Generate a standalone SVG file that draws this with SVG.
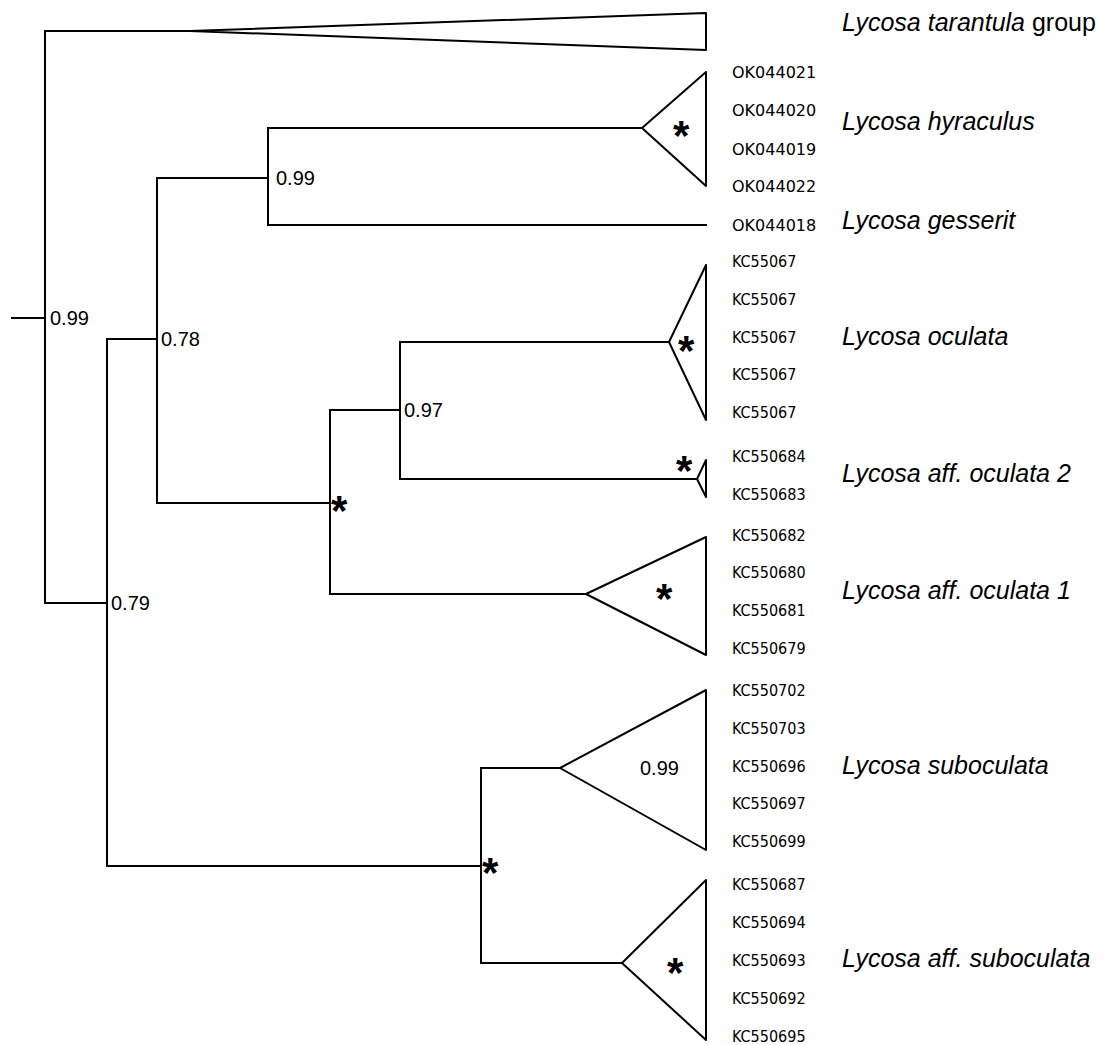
<svg xmlns="http://www.w3.org/2000/svg" width="1105" height="1045" viewBox="0 0 1105 1045">
<style>
.br{fill:none;stroke:#000;stroke-width:2;stroke-linecap:square}
.tri{fill:#fff;stroke:#000;stroke-width:2;stroke-linejoin:round}
.sup{font-family:"Liberation Sans",Arial,sans-serif;font-size:20px;fill:#000}
.star{font-family:"Liberation Sans",Arial,sans-serif;font-size:42px;font-weight:bold;fill:#000}
.ok{font-family:"DejaVu Sans",Verdana,sans-serif;font-size:16px;fill:#000}
.kc{font-family:"DejaVu Sans Condensed","DejaVu Sans",sans-serif;font-size:16px;fill:#000}
.sp{font-family:"Liberation Sans",Arial,sans-serif;font-size:25px;font-style:italic;fill:#000}
.up{font-style:normal}
</style>
<rect width="1105" height="1045" fill="#fff"/>
<g id="connectors">
<path class="br" d="M12,318H45M45,31V603M45,31H190M45,603H107M107,339V866M107,339H157M157,178V503M157,178H268M268,128V225M268,128H642M268,225H706M157,503H330M330,410V594M330,410H400M400,342V479M400,342H669M400,479H697M330,594H586M107,866H481M481,768V963M481,768H560M481,963H622"/>
</g>
<g id="clade-tarantula">
<polygon class="tri" points="190,31 706,13 706,50"/>
<text class="sp" x="842" y="31">Lycosa tarantula <tspan class="up">group</tspan></text>
</g>
<g id="clade-hyraculus">
<polygon class="tri" points="642,128 706,72 706,186"/>
<text class="star" x="673" y="150">*</text>
<text class="ok" x="732" y="78">OK044021</text>
<text class="ok" x="732" y="116">OK044020</text>
<text class="ok" x="732" y="155">OK044019</text>
<text class="ok" x="732" y="192">OK044022</text>
<text class="sp" x="842" y="130">Lycosa hyraculus</text>
</g>
<g id="clade-gesserit">
<text class="ok" x="732" y="231">OK044018</text>
<text class="sp" x="842" y="229">Lycosa gesserit</text>
</g>
<g id="clade-oculata">
<polygon class="tri" points="669,342 706,265 706,420"/>
<text class="star" x="678" y="365">*</text>
<text class="kc" x="732" y="267">KC55067</text>
<text class="kc" x="732" y="305">KC55067</text>
<text class="kc" x="732" y="343">KC55067</text>
<text class="kc" x="732" y="380">KC55067</text>
<text class="kc" x="732" y="418">KC55067</text>
<text class="sp" x="842" y="345">Lycosa oculata</text>
</g>
<g id="clade-aff-oculata-2">
<polygon class="tri" points="697,479 706,460 706,497"/>
<text class="star" x="676" y="485">*</text>
<text class="kc" x="732" y="462">KC550684</text>
<text class="kc" x="732" y="500">KC550683</text>
<text class="sp" x="842" y="482">Lycosa aff. oculata 2</text>
</g>
<g id="clade-aff-oculata-1">
<polygon class="tri" points="586,594 706,537 706,655"/>
<text class="star" x="656" y="613">*</text>
<text class="kc" x="732" y="541">KC550682</text>
<text class="kc" x="732" y="578">KC550680</text>
<text class="kc" x="732" y="616">KC550681</text>
<text class="kc" x="732" y="654">KC550679</text>
<text class="sp" x="842" y="599">Lycosa aff. oculata 1</text>
</g>
<g id="clade-suboculata">
<polygon class="tri" points="560,768 706,690 706,850"/>
<text class="sup" x="640" y="775">0.99</text>
<text class="kc" x="732" y="696">KC550702</text>
<text class="kc" x="732" y="734">KC550703</text>
<text class="kc" x="732" y="772">KC550696</text>
<text class="kc" x="732" y="809">KC550697</text>
<text class="kc" x="732" y="847">KC550699</text>
<text class="sp" x="842" y="774">Lycosa suboculata</text>
</g>
<g id="clade-aff-suboculata">
<polygon class="tri" points="622,963 706,880 706,1040"/>
<text class="star" x="667" y="987">*</text>
<text class="kc" x="732" y="890">KC550687</text>
<text class="kc" x="732" y="928">KC550694</text>
<text class="kc" x="732" y="966">KC550693</text>
<text class="kc" x="732" y="1004">KC550692</text>
<text class="kc" x="732" y="1042">KC550695</text>
<text class="sp" x="842" y="967">Lycosa aff. suboculata</text>
</g>
<g id="node-labels">
<text class="sup" x="50" y="325">0.99</text>
<text class="sup" x="276" y="185">0.99</text>
<text class="sup" x="161" y="346">0.78</text>
<text class="sup" x="111" y="610">0.79</text>
<text class="sup" x="404" y="417">0.97</text>
<text class="star" x="331" y="525">*</text>
<text class="star" x="482" y="887">*</text>
</g>
</svg>
